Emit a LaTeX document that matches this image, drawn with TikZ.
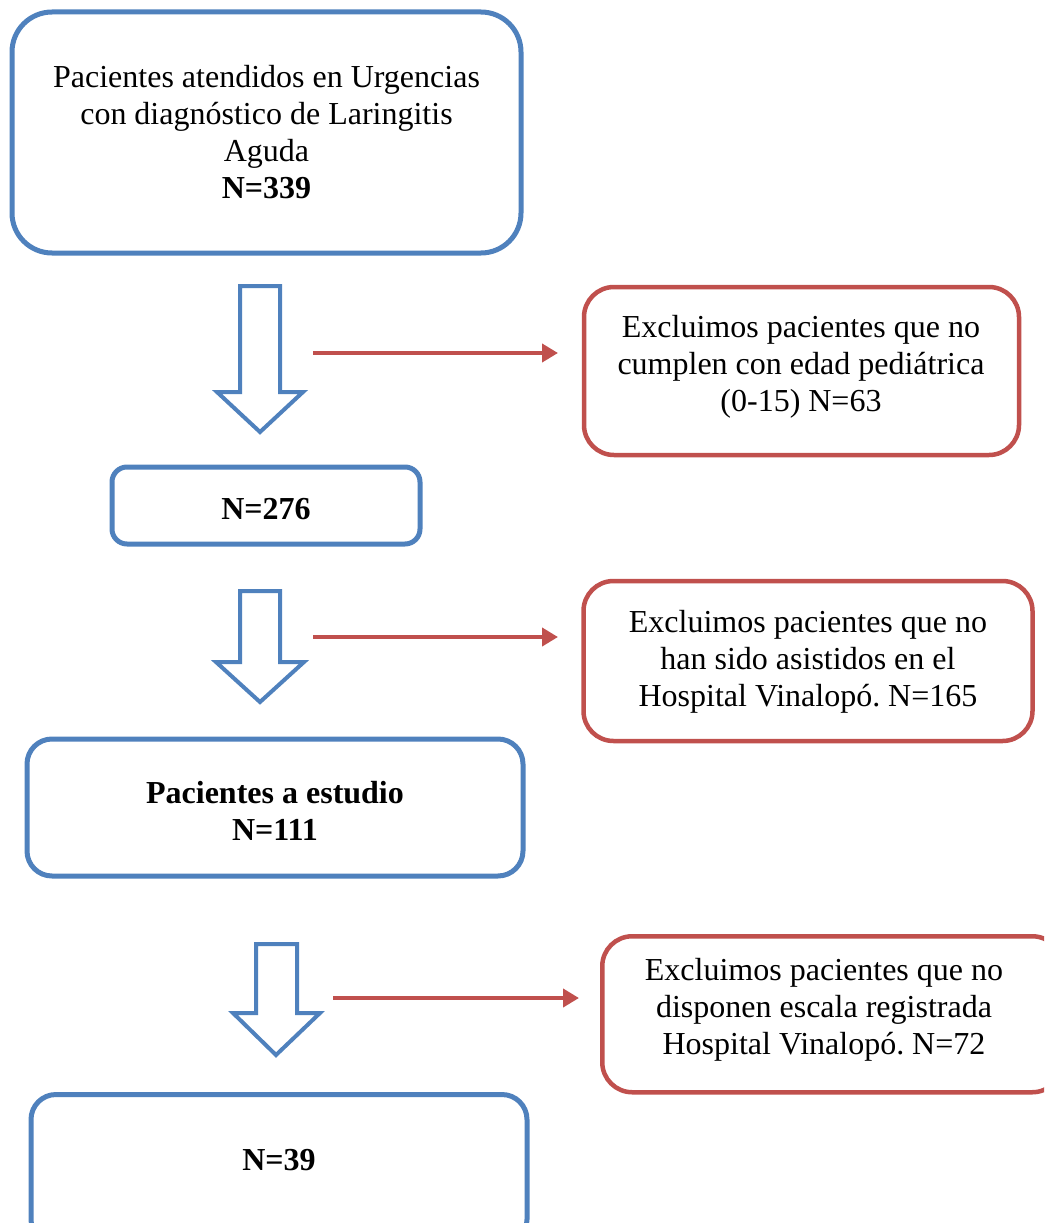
\documentclass[tikz,border=0pt]{standalone}
\usepackage{fontspec}
\setmainfont{Liberation Serif}
\usetikzlibrary{arrows.meta}
\definecolor{oblue}{RGB}{79,129,189}
\definecolor{ored}{RGB}{192,80,77}
\frenchspacing
\begin{document}
\begin{tikzpicture}[x=1pt,y=-1pt,
  txt/.style={align=center,inner sep=0pt,font=\fontsize{32}{37}\selectfont},
  bluebox/.style={draw=oblue,line width=5pt,fill=white,txt},
  redbox/.style={draw=ored,line width=4.5pt,fill=white,txt},
  blockarrow/.style={draw=oblue,line width=4pt,fill=white,line join=miter},
  redarrow/.style={draw=ored,line width=4pt,-{Triangle[length=16pt,width=18pt]}},
]
\useasboundingbox (0,0) rectangle (1044,1223);
\clip (0,0) rectangle (1044,1223);

% blue boxes
\node[bluebox,rounded corners=40pt,minimum width=509pt,minimum height=241pt] (b1) at (266.5,132.5)
  {Pacientes atendidos en Urgencias\\con diagnóstico de Laringitis\\Aguda\\\textbf{N=339}};
\node[bluebox,rounded corners=15pt,minimum width=308pt,minimum height=77pt] (b2) at (266,505.5)
  {};
\node[txt,font=\fontsize{32}{37}\selectfont\bfseries] (t2) at (266,509) {N=276};
\node[bluebox,rounded corners=25pt,minimum width=496pt,minimum height=137pt] (b3) at (275,807.5)
  {};
\node[txt,font=\fontsize{32}{37}\selectfont\bfseries] (t3b) at (275,811) {Pacientes a estudio\\N=111};
\node[bluebox,rounded corners=25pt,minimum width=496pt,minimum height=150pt,anchor=north] (b4) at (279,1092)
  {};
\node[txt,font=\fontsize{32}{37}\selectfont\bfseries] (t4) at (279,1160) {N=39};

% red boxes
\node[redbox,rounded corners=30pt,minimum width=435pt,minimum height=168pt] (r1) at (801.5,371)
  {};
\node[txt] (t1) at (801,367)
  {Excluimos pacientes que no\\cumplen con edad pediátrica\\(0-15) N=63};
\node[redbox,rounded corners=30pt,minimum width=449pt,minimum height=160pt] (r2) at (808,661)
  {};
\node[txt] (t2r) at (808,662)
  {Excluimos pacientes que no\\han sido asistidos en el\\Hospital Vinalopó. N=165};
\node[redbox,rounded corners=30pt,minimum width=460pt,minimum height=156pt,anchor=north west] (r3) at (600,934)
  {};
\node[txt] (t3) at (824,1010)
  {Excluimos pacientes que no\\disponen escala registrada\\Hospital Vinalopó. N=72};

% block arrows
\draw[blockarrow] (240,286) -- (280,286) -- (280,392) -- (303,392) -- (260,432) -- (217,392) -- (240,392) -- cycle;
\draw[blockarrow] (240,591) -- (280,591) -- (280,662) -- (304,662) -- (260,702) -- (216,662) -- (240,662) -- cycle;
\draw[blockarrow] (256,944) -- (297,944) -- (297,1013) -- (320,1013) -- (276,1055) -- (233,1013) -- (256,1013) -- cycle;

% red arrows
\coordinate (a1s) at (313,353); \coordinate (a1e) at (558,353);
\coordinate (a2s) at (313,637); \coordinate (a2e) at (558,637);
\coordinate (a3s) at (333,998); \coordinate (a3e) at (579,998);
\draw[redarrow] (a1s) -- (a1e);
\draw[redarrow] (a2s) -- (a2e);
\draw[redarrow] (a3s) -- (a3e);
\end{tikzpicture}
\end{document}
